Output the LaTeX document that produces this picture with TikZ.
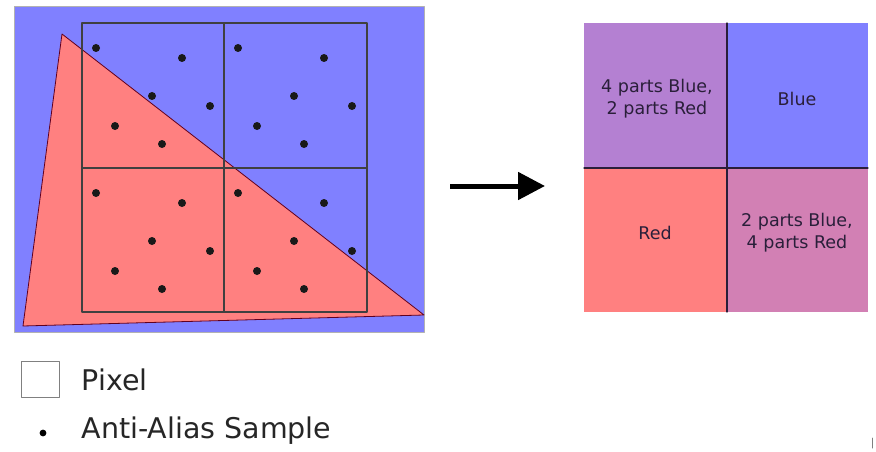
\documentclass[tikz,border=0pt]{standalone}
\usepackage{fontspec}
\setmainfont{DejaVu Sans}
\usetikzlibrary{arrows.meta}
\definecolor{pixblue}{HTML}{8080FF}
\definecolor{pixred}{HTML}{FF8080}
\definecolor{mixbr}{HTML}{B480D2}
\definecolor{mixrb}{HTML}{D280B4}
\definecolor{inkdark}{HTML}{2A1F3A}

\begin{document}
\begin{tikzpicture}[x=1pt, y=-1pt, line join=round, line cap=round, >={Triangle[length=27pt,width=27pt]},
		cell/.style={font=\fontsize{17.5}{22}\selectfont, text=inkdark, align=center},
		legend/.style={font=\fontsize{28.5}{32}\selectfont, anchor=west, text=black!85}]
		\useasboundingbox (0,0) rectangle (876,452);
		% left: triangle over four pixels
		\coordinate (A) at (62,34);
		\coordinate (B) at (23,326);
		\coordinate (C) at (424,315);
		\draw[fill=pixblue, draw=gray!60] (14,6) rectangle (424,332);
		\draw[fill=pixred, draw=purple!50!black, line width=0.8pt] (A)--(B)--(C)--cycle;
		\draw[black!75, line width=1.1pt] (82,23) rectangle (367,312) (224,23)--(224,312) (82,168)--(367,168);
		\foreach \cx/\cy in {82/23,224/23,82/168,224/168}
			\foreach \dx/\dy in {14/25,100/35,70/73,128/83,33/103,80/121}
				\fill[black!90] (\cx+\dx,\cy+\dy) circle (4);
		% arrow
		\coordinate (from) at (450,186);
		\coordinate (to) at (545,186);
		\draw[->, line width=5pt, line cap=butt] (from)--(to);
		% right: resulting pixels
		\fill[mixbr] (584,23) rectangle (727,168);
		\fill[pixblue] (727,23) rectangle (868,168);
		\fill[pixred] (584,168) rectangle (727,312);
		\fill[mixrb] (727,168) rectangle (868,312);
		\draw[inkdark, line width=1.2pt] (727,23)--(727,312) (584,168)--(868,168);
		\node[cell] (mixtop) at (657,99) {4 parts Blue,\\2 parts Red};
		\node[cell] (blue) at (797,99) {Blue};
		\node[cell] (red) at (655,233) {Red};
		\node[cell] (mixbot) at (797,233) {2 parts Blue,\\4 parts Red};
		% legend
		\node[draw=gray, line width=0.8pt, minimum width=38pt, minimum height=36pt, inner sep=0pt] (pixbox) at (40,379) {};
		\node[legend] (pixlabel) at (78,380) {Pixel};
		\fill (43,433) circle (3.4);
		\node[legend] (samplabel) at (78,431) {Anti-Alias Sample};
		\draw[gray, line width=1pt] (872,438)--(872,448);
	\end{tikzpicture}
\end{document}
